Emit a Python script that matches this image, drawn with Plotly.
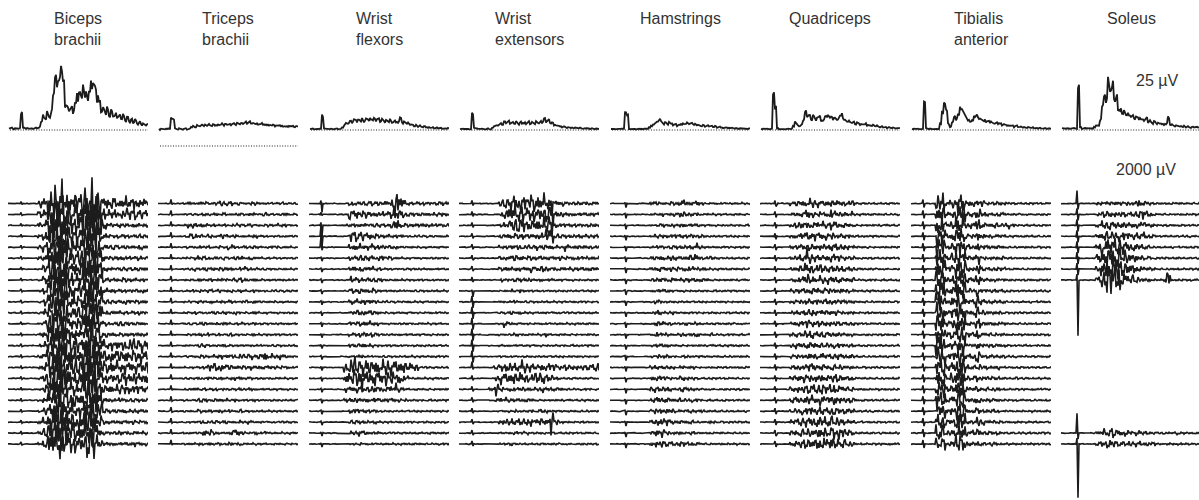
import plotly.graph_objects as go

# ---------------- data ----------------
MUSCLES = ["Biceps<br>brachii", "Triceps<br>brachii", "Wrist<br>flexors", "Wrist<br>extensors",
           "Hamstrings", "Quadriceps", "Tibialis<br>anterior", "Soleus"]

# averaged rectified EMG (µV), sampled every 4 ms
AVG_T_MS = list(range(4, 284, 4))
AVG_BICEPS = [1.5, 1.8, 1.2, 1.6, 1.4, 1.7, 17, 2.0, 1.4, 1.7,
              1.3, 1.6, 1.4, 1.8, 1.5, 3, 8, 14, 11, 17,
              13, 19, 33, 57, 44, 53, 64, 47, 22, 26,
              18, 24, 19, 26, 34, 38, 31, 41, 36, 33,
              39, 44, 46, 39, 31, 27, 19, 23, 16, 21,
              14, 18, 13, 17, 12, 16, 11, 14, 9, 13,
              8, 11, 7, 10, 6, 8, 5, 7, 4, 6]
AVG_TRICEPS = [17, 17.3, 16.8, 17.2, 17, 17.1, 28, 27, 17.2, 16.9,
               17.1, 16.8, 17, 17.2, 17, 17.6, 18.3, 19.5, 19, 20.5,
               19.6, 21, 20.2, 21.3, 20.4, 21, 20.6, 21.4, 20.8, 21.2,
               20.7, 21.6, 21, 21.8, 21.2, 22, 21.5, 22.3, 21.8, 22.6,
               22, 23, 22.4, 24.2, 22.8, 23.6, 22.5, 22.9, 22, 22.4,
               21.6, 22, 21.2, 21.6, 20.8, 21.1, 20.5, 20.9, 20.2, 20.5,
               20, 20.3, 19.7, 20, 19.5, 19.8, 19.4, 19.6, 19.2, 19.4]
AVG_WFLEX = [1, 1.2, 0.9, 1.1, 1, 1.2, 15, 1.5, 1, 1.1,
             0.9, 1.1, 1, 1.2, 1, 1.3, 2.5, 5, 7, 6,
             9, 8, 10, 9, 11, 8.5, 10.5, 9, 11, 9.5,
             11.5, 10, 12, 9.5, 11, 9, 10.5, 8.5, 10, 8,
             9.5, 7.5, 9, 7.5, 8.5, 12, 7, 8, 6, 7,
             5, 5.5, 4, 4.5, 3.5, 3.8, 3, 3.4, 2.6, 3,
             2.2, 2.5, 2, 2.2, 1.7, 1.9, 1.5, 1.7, 1.4, 1.5]
AVG_WEXT = [1, 1.1, 0.9, 1.1, 1, 1, 16, 2, 1, 1.1,
            0.9, 1.1, 1, 1, 1.1, 1, 2, 3.5, 5, 4.5,
            6.5, 6, 8, 7, 8.5, 6.5, 8, 6.5, 7.5, 6,
            8, 6.5, 7.5, 6, 8, 6.5, 7.5, 6, 8.5, 6.5,
            9, 7, 12, 7.5, 11, 6.5, 7, 5, 5, 3.5,
            4, 3, 3.2, 2.5, 2.8, 2.2, 2.4, 2, 2.1, 1.7,
            1.9, 1.5, 1.7, 1.4, 1.5, 1.3, 1.4, 1.2, 1.3, 1.2]
AVG_HAM = [1, 1.1, 0.9, 1.1, 1, 1.1, 1, 19, 14, 1.2,
           1, 1.1, 0.9, 1.1, 1, 1.1, 1, 1.2, 1.5, 2.5,
           4, 5.5, 7, 8.5, 11, 8, 6.5, 7.5, 6, 8,
           6, 5, 5.5, 4.5, 5, 5.5, 6.5, 6, 7, 6,
           6.5, 5.5, 6, 5, 4.5, 4, 4.5, 3.5, 4.5, 3.5,
           4, 3, 3.5, 2.5, 3, 2.5, 2.2, 2.6, 2, 2.2,
           1.8, 2, 1.6, 1.8, 1.5, 1.6, 1.4, 1.5, 1.3, 1.4]
AVG_QUAD = [1, 1.1, 0.9, 1.1, 1, 1.1, 36, 24, 1.5, 1,
            1.1, 0.9, 1.1, 1, 1.1, 1.2, 4, 8, 5, 3.5,
            5, 10, 18, 13, 16, 10, 14, 11, 12, 13,
            9, 10, 14, 15, 12, 13, 11, 12, 10, 14,
            15, 11, 10, 8, 9, 7, 8, 6, 7, 5.5,
            6, 5, 6.5, 4.5, 5, 4, 5, 3.5, 4, 3,
            3.5, 2.5, 3, 2.2, 2.5, 2, 2.2, 1.8, 2, 1.6]
AVG_TIB = [1, 1.1, 0.9, 1.1, 1, 1.1, 30, 1.5, 1, 1.1,
           0.9, 1.1, 1, 1.2, 6, 18, 27, 19, 6, 3,
           8, 14, 11, 15, 22, 19, 16, 13, 9, 8,
           10, 13, 15, 12, 11, 10, 9.5, 8, 9, 7.5,
           8, 6.5, 7, 6, 6.5, 5, 5.5, 4.5, 5, 4,
           4.5, 3.5, 4, 3, 3.5, 2.5, 3, 2.2, 2.5, 2,
           2.2, 1.8, 2, 1.6, 1.8, 1.5, 1.6, 1.4, 1.5, 1.3]
AVG_SOL = [1.5, 1.6, 1.4, 1.6, 1.5, 1.7, 1.5, 1.6, 42, 3,
           1.5, 1.7, 1.5, 1.6, 1.5, 1.7, 3, 4, 4, 10,
           24, 35, 30, 48, 40, 44, 30, 33, 20, 22,
           16, 18, 14, 16, 13, 14, 12, 13, 11, 12,
           10, 9, 13, 8, 9, 7, 8, 6.5, 7, 6,
           6.5, 5.5, 6, 13, 5, 5, 4, 4.5, 3.5, 4,
           3, 3.5, 3, 3.2, 2.8, 3, 2.6, 2.8, 2.5, 2.4]
AVG_ALL = [AVG_BICEPS, AVG_TRICEPS, AVG_WFLEX, AVG_WEXT, AVG_HAM, AVG_QUAD, AVG_TIB, AVG_SOL]
# visible sample-to-sample ripple of each average (fraction of its level)
AVG_RIPPLE = [0.14, 0.03, 0.12, 0.12, 0.10, 0.12, 0.12, 0.12]

# raw EMG sweeps: burst amplitude per 10-ms segment, one base-36 digit per segment
# (1 level = 200 µV); None = sweep not shown
RAW_T_MS = list(range(0, 282, 2))
SEG_MS = 10
LEVEL_UV = 200
TRACE_GAP_UV = 2200
STIM_MS = [26, 26, 24, 26, 30, 30, 24, 32]

BURST_BICEPS = [
    "00000058fmpkdcckpmf877687767", "00000047elnjcbbjnlf766576656",
    "00000036dkmhbaahlkd522322322", "00000026cklib99gkjc422232222",
    "00000025cjlha98gljc423222232", "00000025bjkha99hkic422322232",
    "00000015bikg998gkhb422222322", "00000014aijg988fjhb322232222",
    "00000014aiig987fjgb332222223", "00000014ahjf987eigb322232222",
    "00000014ahjf987ehga322222232", "00000014agie886ehfa322322222",
    "00000024agie887dhfa323222222", "00000025bhjfa98fjhb666767676",
    "00000026bikgba9gkic778787787", "00000026cjkhba9hljd787878778",
    "00000025bikga98gkic667676767", "00000015ahjf987fjhb555656555",
    "00000014agie987ehf9322322222", "00000014agie988ehf8322232222",
    "00000025bhjga99ehe7322222322", "00000025chkhbaafhd6222322222",
    "00000025dilacbbgie5222222322"]
BURST_TRICEPS = [
    "0000012122123231212211111211", "0000011112121211212212111211",
    "0000013332121212212111212211", "0000013431212312111211111111",
    "0000011121212132121211121111", "0000011232221212312111111111",
    "0000011212222221232211111111", "0000011121212312321211111111",
    "0000011221212121211211111111", "0000011121212121121211111111",
    "0000011211221212111211111111", "0000011122121211211211111111",
    "0000011121212121111211111111", "0000011122111211111111111111",
    "0000011122123232323236323211", "0000011112555432323232322211",
    "0000011121212122212111111111", "0000011212121211212111111111",
    "0000011122122212111211111111", "0000011121212121211111111111",
    "0000011122121211212111111111", "0000011114421125521212111111",
    "0000011121212121211111111111"]
BURST_WFLEX = [
    "00000000332233236f8322222222", "00000000664433335a6222222222",
    "0000000122232222384222222222", "0000000066554322222111111111",
    "0000000044434332221111111111", "0000000033333232211111111111",
    "0000000033323221111111111111", "0000000043332221111111111111",
    "0000000033323211111111111111", "0000000033333211111111111111",
    "0000000023333211111111111111", "0000000022333211111111111111",
    "0000000022343211111111111111", "0000000022332111111111111111",
    "0000000011211111111111111111", "0000000699898989888765111111",
    "000000069ae9a999987311111111", "0000000344434433463111111111",
    "0000000233232322322211111111", "0000000033232211111111111111",
    "0000000022221211111111111111", "0000000022331211111111111111",
    "0000000011211111111111111111"]
BURST_WEXT = [
    "000000004689a89a8ab432222222", "0000000036a9a789a9a432222222",
    "000000002478876789c322222222", "000000002343433348c322222222",
    "0000000022333223233214122222", "0000000022343232322232222222",
    "0000000023232343432222222222", "0000000022222221212111111111",
    "0000000011212111111111111111", "0000000011121111111111111111",
    "0000000011212111111111111111", "0000000014211111111111111111",
    "0000000011121111131111111111", "0000000011111111111111111111",
    "0000000011111111111111111111", "0000000246657654545434334346",
    "0000000366778656764211111111", "0000002832323222322221111111",
    "0000000233222221111111111111", "0000000011121121221111111111",
    "000000003454545454e421111111", "0000000011121211111111111111",
    "0000000011211111111111111111"]
BURST_HAM = [
    "0000000022112253242111111111", "0000000011212252221111111111",
    "0000000011212132221111111111", "0000000012222232322111111111",
    "0000000012212222242111111111", "0000000022323222552221111111",
    "0000000023333323322211111111", "0000000022323223232211111111",
    "0000000012221111111111111111", "0000000013211111111111111111",
    "0000000013212111111111111111", "0000000013322112121111111111",
    "0000000013221121231121111111", "0000000012221111111111111111",
    "0000000013221112111111111111", "0000000023222121211111111111",
    "0000000033322132211111111111", "0000000034332132211111111111",
    "0000000024332232221111111111", "0000000024433212212111111111",
    "0000000024543222211121111111", "0000000025532221211111111111",
    "0000000024533232221111111111"]
BURST_QUAD = [
    "0000002344543444333111111111", "0000002337434364333111111111",
    "0000003444444364332111111111", "0000002345555453332111111111",
    "0000002344434365332111111111", "0000002349644454332111111111",
    "0000002358655454433111111111", "0000002348544444333111111111",
    "0000002334443443322111111111", "0000002334343333222111111111",
    "0000002334434333222111111111", "0000002335443333222111111111",
    "0000002335544333222111111111", "0000002334443333222111111111",
    "0000002334434333323111111111", "0000002334544343322111111111",
    "0000003455565455433111111111", "0000003455666565433111111111",
    "0000003445657665433111111111", "0000002344545454433111111111",
    "0000003455667676533111111111", "0000003455567677643111111111",
    "0000003456677777653111111111"]
BURST_TIB = [
    "00000bc35bc44342222211111111", "00000ab35ab33732222111111111",
    "00000bc35cb33832432421111111", "00000bb36bc33732222111111111",
    "00000cb35cb32722222111111111", "00000cc36bb33722223111111111",
    "00000cb35cb32722222111111111", "00000bc36bc33822222111111111",
    "00000bb35bb32622222111111111", "00000cb36cc33832222111111111",
    "00000bb35cb33732222111111111", "00000cb36bc32622222111111111",
    "00000bb35cb33622222111111111", "00000bb35bb32422222111111111",
    "00000ba35cb33722222111111111", "00000bb36bc32423221111111111",
    "00000bb36dc33422221112111111", "00000ab35cb32422221111111111",
    "00000ba36cd33522221111111111", "00000aa35cb32422221111111111",
    "000009935bb32532221111111111", "000009935ab33522221111111111",
    "000007724a932322221111111111"]
BURST_SOL = [
    "0000000223232335321111111111", "0000000244343234642111111111",
    "0000000265454344632111111111", "0000000366565444522111111111",
    "00000004a9b97654321111111111", "00000005bcdc9764321111111111",
    "00000005cdfd9864322111111111", "00000004bfgf976432111a111111",
    None, None, None, None, None, None, None, None, None, None, None, None, None,
    "0000000255644323222111121111", "0000000245533323222111111111"]
BURST_ALL = [BURST_BICEPS, BURST_TRICEPS, BURST_WFLEX, BURST_WEXT,
             BURST_HAM, BURST_QUAD, BURST_TIB, BURST_SOL]

# stimulus artefact on each sweep (levels up / down)
STIM_UP = [
    [2, 2, 2, 2, 2, 2, 2, 2, 2, 2, 2, 2, 2, 2, 2, 2, 2, 2, 2, 2, 2, 2, 2],
    [4, 4, 4, 4, 4, 4, 4, 4, 4, 4, 4, 4, 4, 4, 4, 4, 4, 4, 4, 4, 4, 4, 4],
    [3, 2, 3, 11, 11, 1, 1, 1, 1, 1, 1, 1, 1, 1, 1, 1, 1, 1, 1, 1, 1, 1, 1],
    [3, 3, 3, 3, 3, 3, 3, 3, 1, 6, 6, 6, 6, 6, 6, 6, 3, 3, 3, 3, 3, 3, 3],
    [1, 1, 1, 1, 1, 1, 1, 1, 1, 1, 1, 1, 1, 1, 1, 1, 1, 1, 1, 1, 1, 1, 1],
    [3, 3, 3, 3, 3, 3, 3, 3, 3, 3, 3, 3, 3, 3, 3, 3, 3, 3, 3, 3, 3, 3, 3],
    [4, 4, 4, 4, 4, 4, 4, 4, 4, 4, 4, 4, 4, 4, 4, 4, 4, 4, 4, 4, 4, 4, 4],
    [13, 6, 6, 6, 6, 6, 6, 6, 0, 0, 0, 0, 0, 0, 0, 0, 0, 0, 0, 0, 0, 20, 6]]
STIM_DOWN = [
    [1, 1, 1, 1, 1, 1, 1, 1, 1, 1, 1, 1, 1, 1, 1, 1, 1, 1, 1, 1, 1, 1, 1],
    [1, 1, 1, 1, 1, 1, 1, 1, 1, 1, 1, 1, 1, 1, 1, 1, 1, 1, 1, 1, 1, 1, 1],
    [9, 1, 11, 11, 3, 3, 3, 3, 3, 3, 3, 3, 3, 3, 3, 3, 3, 3, 3, 3, 3, 3, 3],
    [2, 2, 2, 2, 2, 2, 2, 2, 6, 6, 6, 6, 6, 6, 6, 2, 2, 2, 2, 2, 2, 2, 2],
    [4, 4, 4, 4, 4, 4, 4, 4, 4, 4, 4, 4, 4, 4, 4, 4, 4, 4, 4, 4, 4, 4, 4],
    [3, 3, 3, 3, 3, 3, 3, 3, 3, 3, 3, 3, 3, 3, 3, 3, 3, 3, 3, 3, 3, 3, 3],
    [4, 4, 4, 4, 4, 4, 4, 4, 4, 4, 4, 4, 4, 4, 4, 4, 4, 4, 4, 4, 4, 4, 4],
    [6, 6, 6, 6, 6, 6, 6, 56, 0, 0, 0, 0, 0, 0, 0, 0, 0, 0, 0, 0, 0, 6, 54]]

# fixed oscillation shapes used inside bursts (fast spikes + slower wave)
SPIKES = [0.2, -0.5, 0.9, -0.3, -0.7, 0.4, 1.0, -0.6, 0.1, -0.9,
          0.5, 0.3, -0.4, 0.8, -1.0, 0.2, -0.2, 0.6, -0.5, 0.95,
          -0.35, -0.8, 0.45, 0.1, -0.6, 0.7, -0.15, 0.85, -0.95, 0.3,
          -0.45, 0.55, 0.15, -0.7, 1.0, -0.25, 0.4, -0.85, 0.05, 0.65,
          -0.55, 0.35, -1.0, 0.75, -0.1, 0.5, -0.65, 0.9, -0.3, -0.05,
          0.6, -0.75, 0.25, -0.4, 0.8, -0.9, 0.45, 0.2, -0.5, 0.7,
          -0.2, 0.95, -0.6, 0.1, -0.35, 0.55, -0.8, 0.3, 0.65, -0.45, 0.15]
WAVE = [0.1, 0.6, 0.9, 0.3, -0.5, -0.95, -0.4, 0.2, 0.75, 0.4,
        -0.3, -0.8, -0.2, 0.5, 1.0, 0.45, -0.35, -0.7, -0.15, 0.3,
        0.15, -0.6, -1.0, -0.35, 0.4, 0.85, 0.25, -0.25, -0.55, 0.1,
        0.65, 0.2, -0.45, -0.9, -0.5, 0.15, 0.7, 0.95, 0.3, -0.4,
        -0.75, -0.1, 0.35, 0.55, -0.2, -0.65, -0.3, 0.45, 0.8, 0.05,
        -0.85, -0.45, 0.25, 0.6, 0.9, 0.1, -0.55, -0.2, 0.3, -0.1,
        -0.7, -0.95, -0.25, 0.5, 0.35, -0.15, 0.55, 1.0, 0.2, -0.6]


def shape(j, r, i):
    a = SPIKES[(j + r * 29 + i * 11) % len(SPIKES)]
    b = WAVE[(j + r * 17 + i * 23) % len(WAVE)]
    return 0.7 * a + 0.5 * b


# ---------------- layout geometry ----------------
W, H = 1199, 500
COL_X0 = [8, 158, 309, 459, 610, 760, 911, 1061]
COL_W = 140
T_SPAN = 280
INK = "#1c1c1c"
FONT = "Liberation Sans, Arial, sans-serif"

fig = go.Figure()
layout = dict(width=W, height=H, margin=dict(l=0, r=0, t=0, b=0),
              paper_bgcolor="white", plot_bgcolor="rgba(0,0,0,0)", showlegend=False,
              hovermode=False)

avg_dom = [1 - 160 / H, 1 - 50 / H]
raw_dom = [0, 1 - 165 / H]
uv_per_px = TRACE_GAP_UV / 10.932
raw_top = 38.5 * uv_per_px
raw_range = [raw_top - 335 * uv_per_px, raw_top]
AVG_PLOT_T = list(range(2, 282, 2))

for i in range(8):
    x0 = COL_X0[i]
    x1 = min(x0 + COL_W, W)
    dom = [x0 / W, x1 / W]
    xr = [0, (x1 - x0) * T_SPAN / COL_W]
    a, b = i + 1, i + 9
    zero_px = 146 if i == 1 else 130
    layout[f"xaxis{a}"] = dict(domain=dom, range=xr, visible=False, fixedrange=True, anchor=f"y{a}")
    layout[f"xaxis{b}"] = dict(domain=dom, range=xr, visible=False, fixedrange=True, anchor=f"y{b}")
    layout[f"yaxis{a}"] = dict(domain=avg_dom, anchor=f"x{a}", visible=False,
                               range=[-(160 - zero_px), zero_px - 50], fixedrange=True)
    layout[f"yaxis{b}"] = dict(domain=raw_dom, anchor=f"x{b}", visible=False,
                               range=raw_range, fixedrange=True)

    # dotted zero line
    fig.add_trace(go.Scatter(x=[AVG_T_MS[0], AVG_T_MS[-1]], y=[0, 0], mode="lines",
                             line=dict(color=INK, width=1, dash="1px,1.6px"),
                             xaxis=f"x{a}", yaxis=f"y{a}", hoverinfo="skip"))
    # average trace, drawn with its sample-to-sample ripple
    avg = AVG_ALL[i]
    ay = []
    for j, t in enumerate(AVG_PLOT_T):
        k = min((t - 1) // 4, len(avg) - 1)
        v = avg[k]
        rip = AVG_RIPPLE[i] * v + 0.35
        ay.append(v + rip * shape(j, 3, i))
    fig.add_trace(go.Scatter(x=AVG_PLOT_T, y=ay, mode="lines",
                             line=dict(color=INK, width=1.8),
                             xaxis=f"x{a}", yaxis=f"y{a}", hoverinfo="skip"))

    # raw sweeps
    xs, ys = [], []
    stim_idx = RAW_T_MS.index(STIM_MS[i])
    for r, row in enumerate(BURST_ALL[i]):
        if row is None:
            continue
        row = (row + "0" * 28)[:28]
        base = -r * TRACE_GAP_UV
        for j, t in enumerate(RAW_T_MS):
            seg = min(t // SEG_MS, 27)
            lvl = max(int(row[seg], 36), 0.45)
            v = base + lvl * LEVEL_UV * shape(j, r, i)
            if j == stim_idx:
                v = base + STIM_UP[i][r] * LEVEL_UV
            elif j == stim_idx + 1:
                v = base - STIM_DOWN[i][r] * LEVEL_UV
            xs.append(t)
            ys.append(v)
        xs.append(None)
        ys.append(None)
    fig.add_trace(go.Scatter(x=xs, y=ys, mode="lines", line=dict(color=INK, width=1.6),
                             xaxis=f"x{b}", yaxis=f"y{b}", hoverinfo="skip",
                             connectgaps=False))

anns = []
for i, name in enumerate(MUSCLES):
    anns.append(dict(x=(COL_X0[i] + 70) / W, y=1 - 8 / H, xref="paper", yref="paper",
                     text=name, showarrow=False, xanchor="center", yanchor="top",
                     align="left", font=dict(family=FONT, size=16, color="#333")))
anns.append(dict(x=1180 / W, y=1 - 80 / H, xref="paper", yref="paper", text="25 µV",
                 showarrow=False, xanchor="right", yanchor="middle",
                 font=dict(family=FONT, size=16, color="#333")))
anns.append(dict(x=1178 / W, y=1 - 169 / H, xref="paper", yref="paper", text="2000 µV",
                 showarrow=False, xanchor="right", yanchor="middle",
                 font=dict(family=FONT, size=16, color="#333")))
layout["annotations"] = anns
fig.update_layout(**layout)
fig.write_html("out.html", config={"displayModeBar": False, "staticPlot": True},
               post_script="document.body.style.margin='0';document.body.style.padding='0';")
